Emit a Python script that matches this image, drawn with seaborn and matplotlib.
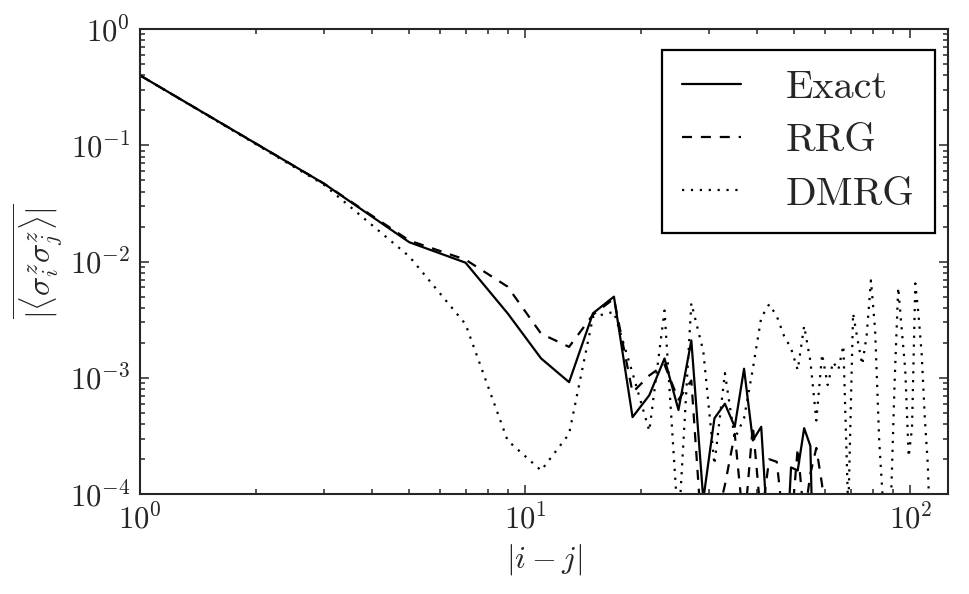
import pandas as pd
import matplotlib
matplotlib.use("Agg")
import matplotlib.pyplot as plt
import seaborn as sns

# distances |i-j| (odd separations) and averaged correlations
dist_exact = [1, 3, 5, 7, 9, 11, 13, 15, 17, 19, 21, 23, 25, 27, 29, 31, 33, 35, 37, 39,
              41, 43, 45, 47, 49, 51, 53, 55, 57]
corr_exact = [0.40, 0.047, 0.0147, 0.0098, 3.6e-3, 1.47e-3, 9.2e-4, 3.6e-3, 5.0e-3, 4.6e-4,
              7.1e-4, 1.47e-3, 5.3e-4, 2.1e-3, 9e-5, 4.5e-4, 6.0e-4, 3.8e-4, 1.2e-3, 2.9e-4,
              3.8e-4, 3e-5, 1e-5, 1.2e-5, 1.7e-4, 1.6e-4, 3.7e-4, 2.6e-4, 2e-6]

dist_rrg = [1, 3, 5, 7, 9, 11, 13, 15, 17, 19, 21, 23, 25, 27, 29, 31, 33, 35, 37, 39,
            41, 43, 45, 47, 49, 51, 53, 55, 57, 59, 61]
corr_rrg = [0.40, 0.047, 0.0152, 0.0104, 6.1e-3, 2.4e-3, 1.85e-3, 3.5e-3, 4.8e-3, 7.5e-4,
            1.05e-3, 1.3e-3, 6.5e-4, 9.5e-4, 3e-5, 5e-5, 1.2e-4, 3.3e-4, 5e-5, 3.9e-4,
            6e-5, 2e-4, 1.9e-4, 5e-5, 5e-5, 2.5e-4, 6e-5, 1.5e-4, 2.5e-4, 1.2e-4, 3e-5]

dist_dmrg = [1, 3, 5, 7, 9, 11, 13, 15, 17, 19, 21, 23, 25, 27, 29, 31, 33, 35, 37, 39,
             41, 43, 45, 47, 49, 51, 53, 55, 57, 59, 61, 63, 65, 67, 69, 71, 73, 75, 77, 79,
             81, 83, 85, 87, 89, 91, 93, 95, 97, 99, 101, 103, 105, 107, 109, 111, 113]
corr_dmrg = [0.40, 0.046, 0.0111, 2.9e-3, 2.9e-4, 1.6e-4, 3.3e-4, 3.35e-3, 3.7e-3, 1.1e-3,
             3.5e-4, 3.8e-3, 5e-5, 4.4e-3, 1.7e-3, 1.8e-4, 1.1e-3, 3e-4, 4.5e-4, 1.2e-3,
             3.3e-3, 4.3e-3, 3.4e-3, 2.3e-3, 1.8e-3, 1.17e-3, 2.8e-3, 1.4e-3, 4.3e-4, 1.6e-3,
             8.7e-4, 1.37e-3, 1.17e-3, 1.9e-3, 7e-5, 3.6e-3, 2.1e-3, 1.3e-3, 2.3e-3, 6.9e-3,
             2.6e-3, 2.9e-4, 8e-5, 6e-5, 8e-5, 9e-4, 6.0e-3, 2.6e-3, 1.17e-3, 2.1e-4,
             3.7e-4, 6.5e-3, 3.5e-3, 1.6e-3, 4.6e-4, 1.8e-4, 3e-5]

methods = ["Exact", "RRG", "DMRG"]

df = pd.concat([
    pd.DataFrame({"dist": dist_exact, "corr": corr_exact, "method": "Exact"}),
    pd.DataFrame({"dist": dist_rrg, "corr": corr_rrg, "method": "RRG"}),
    pd.DataFrame({"dist": dist_dmrg, "corr": corr_dmrg, "method": "DMRG"}),
], ignore_index=True)

sns.set_style("ticks", rc={
    "xtick.direction": "in", "ytick.direction": "in",
    "xtick.top": True, "ytick.right": True,
})
plt.rcParams["font.family"] = "serif"
plt.rcParams["font.serif"] = ["cmr10", "DejaVu Serif"]
plt.rcParams["mathtext.fontset"] = "cm"
plt.rcParams["axes.formatter.use_mathtext"] = True
plt.rcParams["axes.linewidth"] = 1.5
plt.rcParams["xtick.major.size"] = 6.5
plt.rcParams["ytick.major.size"] = 6.5
plt.rcParams["xtick.minor.size"] = 3.5
plt.rcParams["ytick.minor.size"] = 3.5
plt.rcParams["xtick.major.pad"] = 7
plt.rcParams["ytick.major.pad"] = 7
plt.rcParams["lines.scale_dashes"] = True

fig, ax = plt.subplots(figsize=(9.69, 5.94), dpi=100)
fig.subplots_adjust(left=0.1445, right=0.978, bottom=0.168, top=0.951)

palette = {"Exact": "black", "RRG": "black", "DMRG": "black"}
dashes = {"Exact": "", "RRG": (4.5, 4), "DMRG": (1, 3)}
sns.lineplot(data=df, x="dist", y="corr", hue="method", style="method",
             hue_order=methods, style_order=methods, palette=palette, dashes=dashes,
             estimator=None, sort=False, linewidth=1.6, ax=ax)

ax.set_xscale("log")
ax.set_yscale("log")
ax.set_xlim(1, 125)
ax.set_ylim(1e-4, 1)
ax.tick_params(which="both", labelsize=22, width=1.1)
ax.tick_params(which="both", top=True, right=True, direction="in")

ax.set_xlabel(r"$|i-j|$", fontsize=23, labelpad=5)
ax.set_ylabel(r"$\overline{|\langle\sigma_i^z\sigma_j^z\rangle|}$", fontsize=23, labelpad=3)

h, l = ax.get_legend_handles_labels()
leg = ax.legend(h, l, loc="upper right", bbox_to_anchor=(0.984, 0.955), borderaxespad=0,
                fontsize=29, frameon=True, fancybox=False, framealpha=1,
                edgecolor="black", handlelength=1.47, handletextpad=1.1,
                labelspacing=0.42, borderpad=0.5)
leg.get_frame().set_linewidth(1.6)
for line in leg.get_lines():
    line.set_linewidth(1.6)

fig.savefig("out.png", dpi=100)
